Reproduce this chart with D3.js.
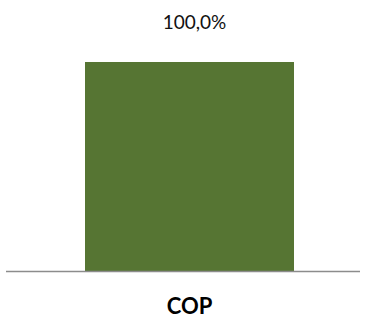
<!DOCTYPE html>
<html>
<head>
<meta charset="utf-8">
<script src="https://cdn.jsdelivr.net/npm/d3@7"></script>
<style>
  body { margin: 0; background: #fff; }
</style>
</head>
<body>
<div id="chart"></div>
<script>
// ------------------- //
// DATA
// ------------------- //
var categories = ["COP"]
var values = [1.0]
var valueLabels = ["100,0%"]

// ------------------- //
// SVG
// ------------------- //
var width = 369,
  height = 318

var svg = d3.select("#chart")
  .append("svg")
    .attr("width", width)
    .attr("height", height)

// scales
var x = d3.scaleBand()
    .domain(categories)
    .range([19, 360])
    .padding(0.24)

var y = d3.scaleLinear()
    .domain([0, 1])
    .range([271, 62])

// bars
svg.selectAll(".bar")
  .data(values)
  .enter()
  .append("rect")
    .attr("class", "bar")
    .attr("x", function(d, i) { return x(categories[i]) })
    .attr("y", function(d) { return y(d) })
    .attr("width", x.bandwidth())
    .attr("height", function(d) { return y(0) - y(d) })
    .style("fill", "#567533")

// baseline (x axis line)
svg.append("line")
    .attr("x1", 6)
    .attr("x2", 360)
    .attr("y1", y(0) + 0.5)
    .attr("y2", y(0) + 0.5)
    .style("stroke", "#8c8c8c")
    .style("stroke-width", 1.5)

// value labels
svg.selectAll(".valueLabel")
  .data(values)
  .enter()
  .append("text")
    .attr("class", "valueLabel")
    .attr("x", function(d, i) { return x(categories[i]) + x.bandwidth()/2 + 5 })
    .attr("y", function(d) { return y(d) - 33 })
    .attr("text-anchor", "middle")
    .style("font-family", "Lato, 'Open Sans', sans-serif")
    .style("font-size", "19px")
    .style("fill", "#111")
    .text(function(d, i) { return valueLabels[i] })

// category labels
svg.selectAll(".catLabel")
  .data(categories)
  .enter()
  .append("text")
    .attr("class", "catLabel")
    .attr("x", function(d) { return x(d) + x.bandwidth()/2 })
    .attr("y", 314)
    .attr("text-anchor", "middle")
    .style("font-family", "Lato, 'Open Sans', sans-serif")
    .style("font-size", "22px")
    .style("font-weight", "bold")
    .style("fill", "#000")
    .text(function(d) { return d })
</script>
</body>
</html>
